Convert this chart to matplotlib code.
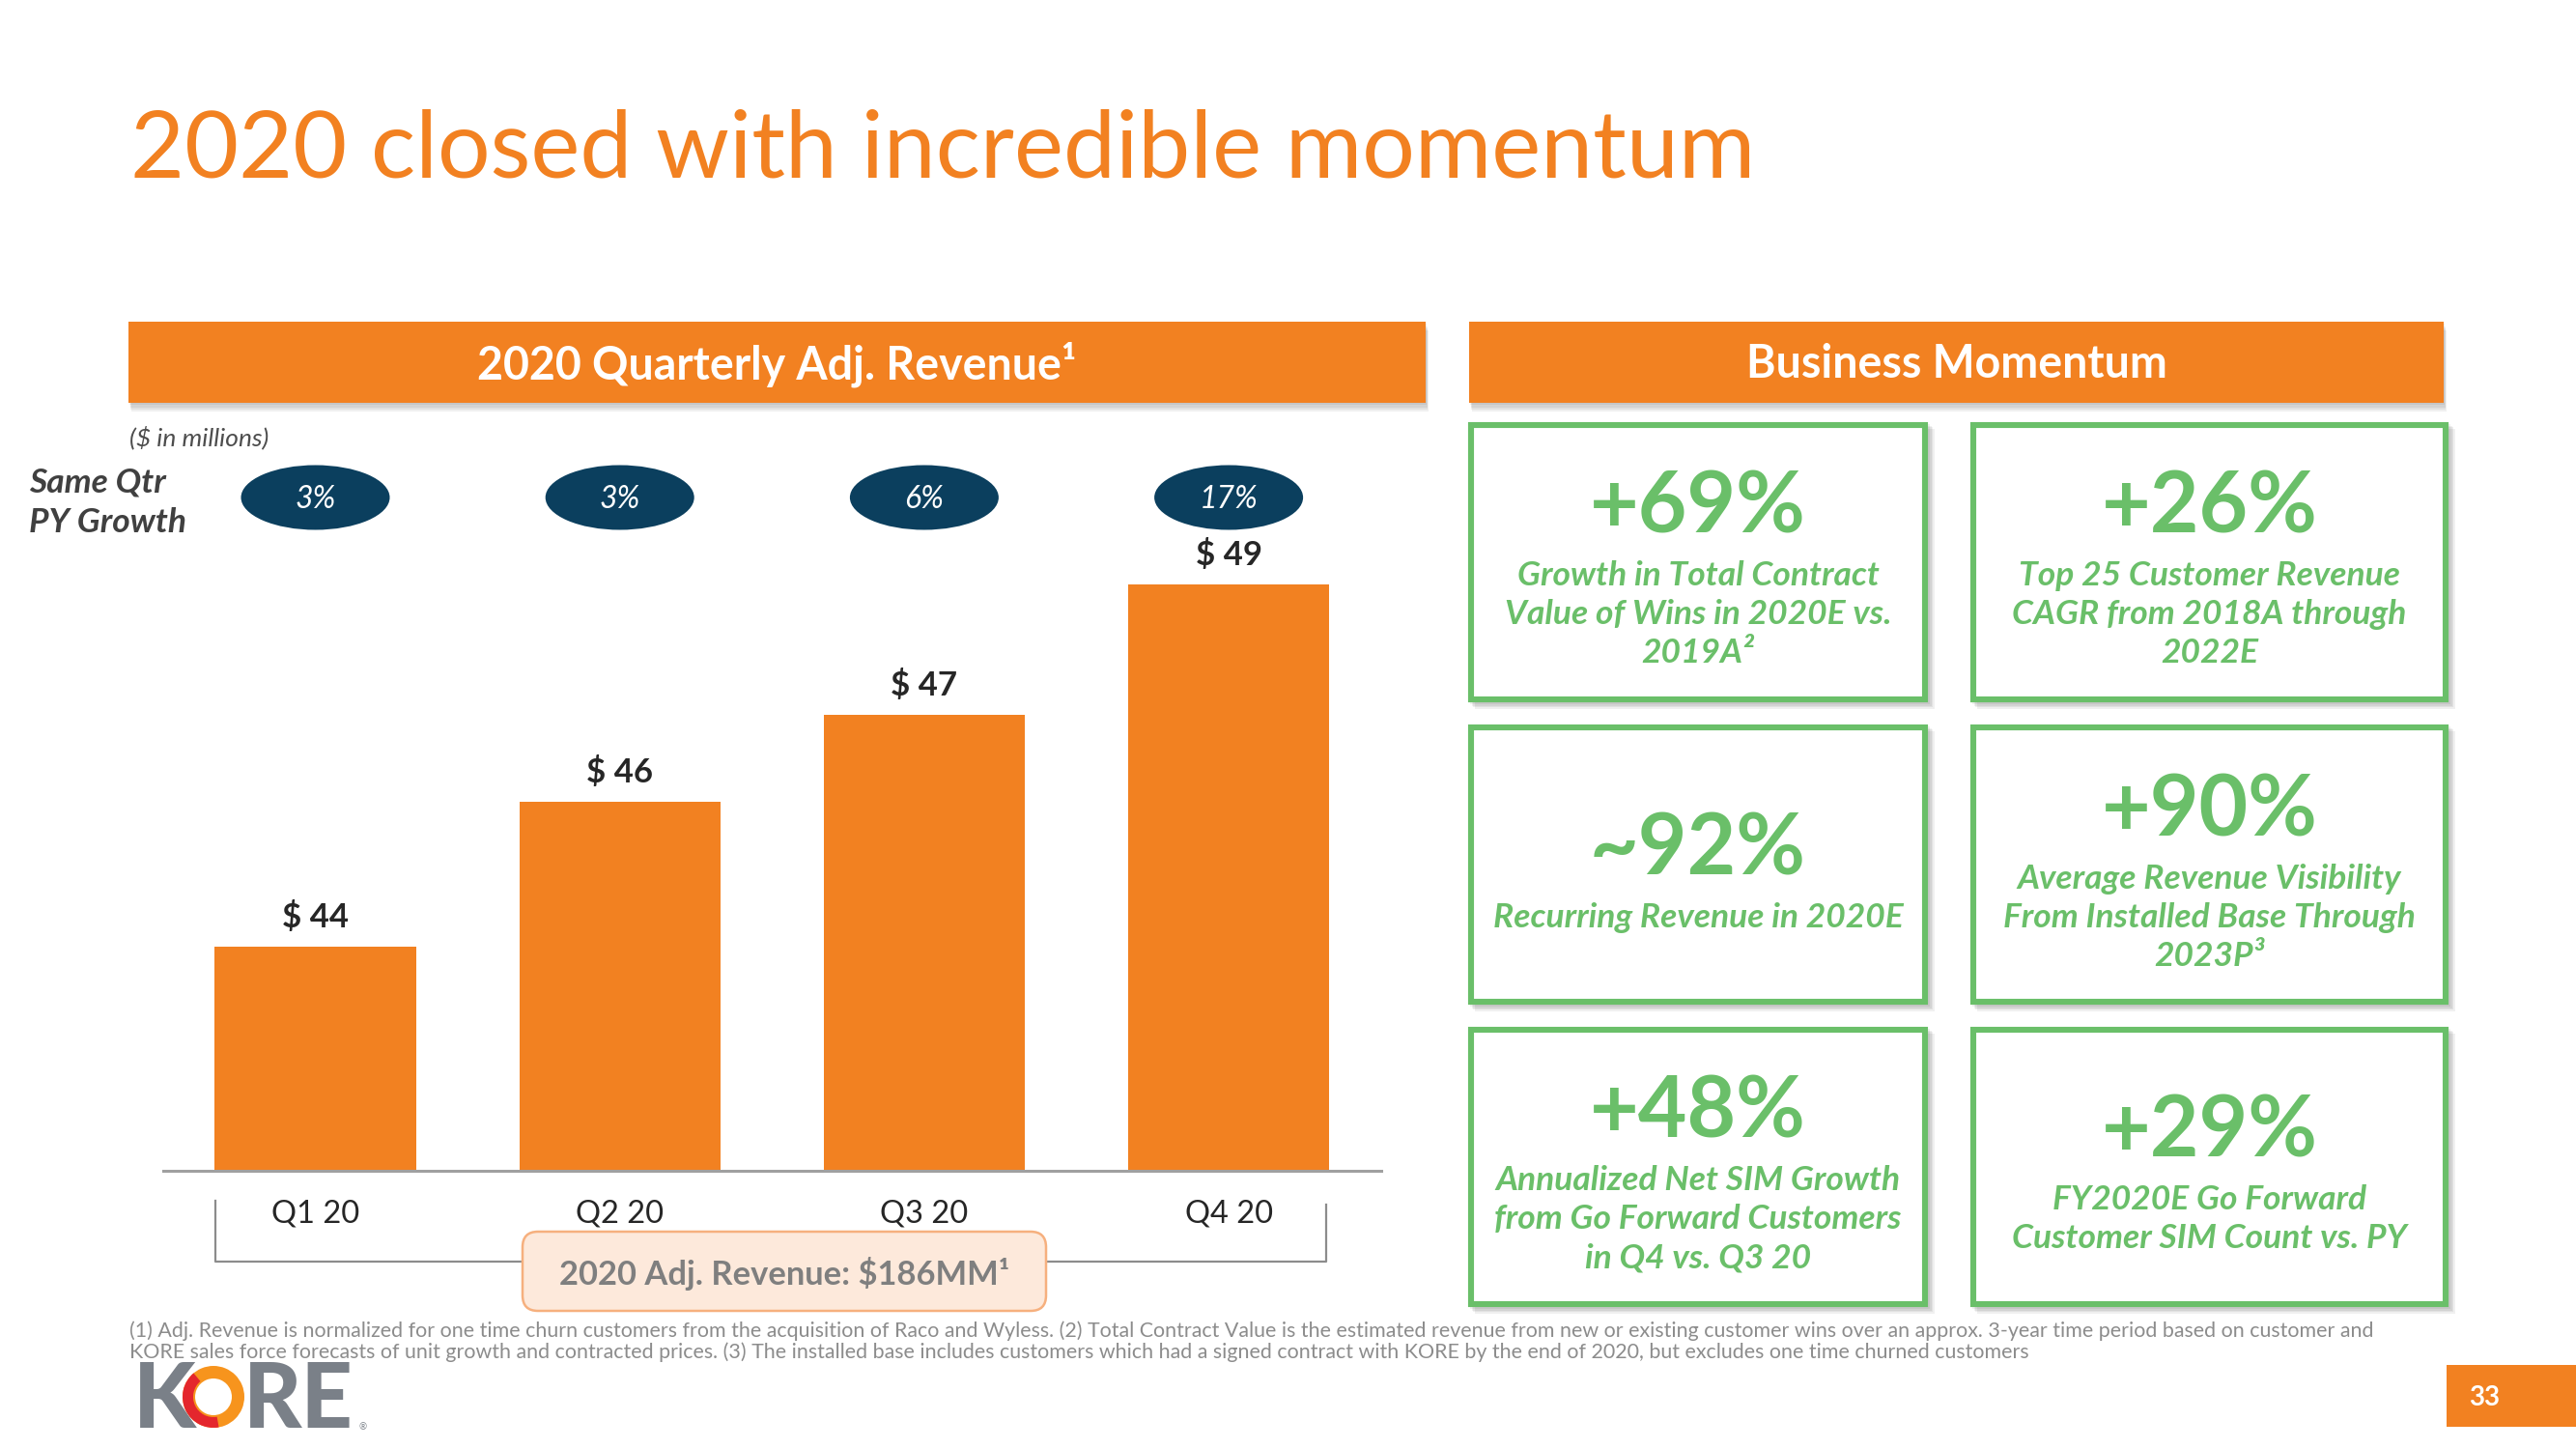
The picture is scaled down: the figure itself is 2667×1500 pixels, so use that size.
#!/usr/bin/env python3
import matplotlib
matplotlib.use("Agg")
import matplotlib.pyplot as plt
from matplotlib import transforms
from matplotlib.lines import Line2D
from matplotlib.patches import Ellipse, FancyBboxPatch, Rectangle, Wedge

W, H = 2667, 1500

ORANGE = "#F28121"
GREEN = "#6ABF69"
NAVY = "#0B3F5E"
INK = "#262626"
GREY = "#7F7F7F"
LOGO_GREY = "#7A8088"

TITLE = "2020 closed with incredible momentum"
LEFT_HEADER = "2020 Quarterly Adj. Revenue\u00b9"
RIGHT_HEADER = "Business Momentum"
UNITS = "($ in millions)"
GROWTH_CAPTION = ["Same Qtr", "PY Growth"]

QUARTERS = ["Q1 20", "Q2 20", "Q3 20", "Q4 20"]
REVENUE = [44.0, 46.0, 47.2, 49.0]
REVENUE_LABELS = ["$ 44", "$ 46", "$ 47", "$ 49"]
PY_GROWTH = ["3%", "3%", "6%", "17%"]
TOTAL_LABEL = "2020 Adj. Revenue: $186MM\u00b9"

MOMENTUM_VALUES = ["+69%", "+26%", "~92%", "+90%", "+48%", "+29%"]
MOMENTUM_NOTES = [
    ["Growth in Total Contract", "Value of Wins in 2020E vs.", "2019A\u00b2"],
    ["Top 25 Customer Revenue", "CAGR from 2018A through", "2022E"],
    ["Recurring Revenue in 2020E"],
    ["Average Revenue Visibility", "From Installed Base Through", "2023P\u00b3"],
    ["Annualized Net SIM Growth", "from Go Forward Customers", "in Q4 vs. Q3 20"],
    ["FY2020E Go Forward", "Customer SIM Count vs. PY"],
]

FOOTNOTES = [
    "(1) Adj. Revenue is normalized for one time churn customers from the acquisition of Raco and Wyless. "
    "(2) Total Contract Value is the estimated revenue from new or existing customer wins over an approx. "
    "3-year time period based on customer and",
    "KORE sales force forecasts of unit growth and contracted prices. (3) The installed base includes customers "
    "which had a signed contract with KORE by the end of 2020, but excludes one time churned customers",
]
PAGE = "33"


def soft_shadow(fig, px, x, y, w, h, dx, dy, steps=4):
    for k in range(1, steps + 1):
        fig.add_artist(Rectangle((x + dx * k / steps, y + dy * k / steps), w, h, transform=px,
                                 facecolor="black", edgecolor="none", alpha=0.06, zorder=1))


def fit_width(fig, txt, target):
    renderer = fig.canvas.get_renderer()
    width = txt.get_window_extent(renderer).width
    txt.set_fontsize(txt.get_fontsize() * target / width)
    return txt.get_fontsize()


def main():
    plt.rcParams["font.family"] = ["Lato", "DejaVu Sans"]
    fig = plt.figure(figsize=(W / 100, H / 100), dpi=100)
    fig.patch.set_facecolor("white")
    # pixel coords, origin top-left
    px = transforms.Affine2D().scale(1.0 / W, -1.0 / H).translate(0, 1) + fig.transFigure

    title = fig.text(135, 183, TITLE, transform=px, color=ORANGE, fontsize=68, fontweight="normal",
                     ha="left", va="baseline")
    fit_width(fig, title, 1684)

    # section headers
    for x0, x1, label in [(133, 1476, LEFT_HEADER), (1521, 2530, RIGHT_HEADER)]:
        soft_shadow(fig, px, x0, 333, x1 - x0, 84, dx=3, dy=9)
        fig.add_artist(Rectangle((x0, 333), x1 - x0, 84, transform=px, facecolor=ORANGE,
                                 edgecolor="none", zorder=2))
        fig.text((x0 + x1) / 2, 377, label, transform=px, color="white", fontsize=33.5,
                 fontweight="bold", ha="center", va="center", zorder=3)

    fig.text(134, 453, UNITS, transform=px, color="#4D4D4D", fontsize=19, fontstyle="italic",
             ha="left", va="center")
    for i, line in enumerate(GROWTH_CAPTION):
        fig.text(30, 500 + 41 * i, line, transform=px, color="#404040", fontsize=25.5,
                 fontstyle="italic", fontweight="bold", ha="left", va="center")

    # bar chart
    ax = fig.add_axes([168.9 / W, 1 - 1212 / H, 1260.8 / W, 757.5 / H])
    ax.patch.set_visible(False)
    x = list(range(len(QUARTERS)))
    ax.bar(x, REVENUE, width=0.66, color=ORANGE, zorder=2)
    ax.set_xlim(-0.5, 3.5)
    ax.set_ylim(40.9, 51.0)
    for side in ["top", "left", "right"]:
        ax.spines[side].set_visible(False)
    ax.spines["bottom"].set_color("#A0A0A0")
    ax.spines["bottom"].set_linewidth(2.2)
    ax.set_yticks([])
    ax.set_xticks(x, QUARTERS)
    ax.tick_params(axis="x", length=0, pad=21, labelsize=23.5, labelcolor=INK)
    for xi, v, lab in zip(x, REVENUE, REVENUE_LABELS):
        ax.annotate(lab, (xi, v), xytext=(0, 14), textcoords="offset points", ha="center",
                    va="baseline", fontsize=25, fontweight="bold", color=INK)

    # PY growth pills
    pill_tf = transforms.blended_transform_factory(ax.transData, px)
    for xi, g in zip(x, PY_GROWTH):
        fig.add_artist(Ellipse((xi, 515), width=154 / 315.2, height=67, transform=pill_tf,
                               facecolor=NAVY, edgecolor="none", zorder=2))
        fig.text(xi, 517, g, transform=pill_tf, color="white", fontsize=23, fontstyle="italic",
                 ha="center", va="center", zorder=3)

    # bracket and total callout
    fig.add_artist(Line2D([223, 223, 1373, 1373], [1243, 1306, 1306, 1247], transform=px,
                          color="#8C8C8C", linewidth=1.6, zorder=1))
    fig.add_artist(FancyBboxPatch((541, 1275), 542, 82, boxstyle="round,pad=0,rounding_size=16",
                                  transform=px, facecolor="#FDE9DB", edgecolor="#F6B07E",
                                  linewidth=1.8, zorder=2))
    fig.text(812, 1318, TOTAL_LABEL, transform=px, color=GREY, fontsize=24.8, fontweight="bold",
             ha="center", va="center", zorder=3)

    # business momentum boxes
    cols = [(1520, 1996), (2040, 2535)]
    rows = [(437, 727), (750, 1040), (1063, 1353)]
    k = 0
    for y0, y1 in rows:
        for x0, x1 in cols:
            soft_shadow(fig, px, x0, y0, x1 - x0, y1 - y0, dx=7, dy=7)
            fig.add_artist(Rectangle((x0 + 3, y0 + 3), x1 - x0 - 6, y1 - y0 - 6, transform=px,
                                     facecolor="white", edgecolor=GREEN, linewidth=4.4, zorder=2))
            notes = MOMENTUM_NOTES[k]
            cx = (x0 + x1) / 2
            cy = (y0 + y1) / 2
            num_y = cy + 6 - (43 + 40 * (len(notes) - 1)) / 2
            fig.text(cx, num_y, MOMENTUM_VALUES[k], transform=px, color=GREEN, fontsize=63,
                     fontweight="bold", ha="center", va="center", zorder=3)
            for j, line in enumerate(notes):
                fig.text(cx, num_y + 70 + 40 * j, line, transform=px, color=GREEN, fontsize=25.5,
                         fontweight="bold", fontstyle="italic", ha="center", va="center", zorder=3)
            k += 1

    # footnotes
    notes = []
    for i, line in enumerate(FOOTNOTES):
        notes.append(fig.text(134, 1378 + 22 * i, line, transform=px, color="#8C8C8C", fontsize=14,
                              ha="left", va="center"))
    size = fit_width(fig, notes[0], 2321)
    notes[1].set_fontsize(size)

    # logo
    fig.text(138, 1478, "K", transform=px, color=LOGO_GREY, fontsize=67, fontweight="black",
             ha="left", va="baseline")
    fig.add_artist(Wedge((221, 1446), 32, 0, 360, width=13, transform=px, facecolor="#F7941D",
                         edgecolor="none", zorder=2))
    fig.add_artist(Wedge((221, 1446), 32, 80, 230, width=11, transform=px, facecolor="#E4262D",
                         edgecolor="none", zorder=2))
    fig.text(252, 1478, "RE", transform=px, color=LOGO_GREY, fontsize=67, fontweight="black",
             ha="left", va="baseline")
    fig.text(372, 1480, "\u00ae", transform=px, color=LOGO_GREY, fontsize=7, ha="left", va="baseline")

    # page number
    fig.add_artist(Rectangle((2533, 1413), W - 2533, 64, transform=px, facecolor=ORANGE,
                             edgecolor="none", zorder=2))
    fig.text(2572, 1447, PAGE, transform=px, color="white", fontsize=20, fontweight="bold",
             ha="center", va="center", zorder=3)

    fig.savefig("out.png", dpi=100, facecolor="white")


if __name__ == "__main__":
    main()
